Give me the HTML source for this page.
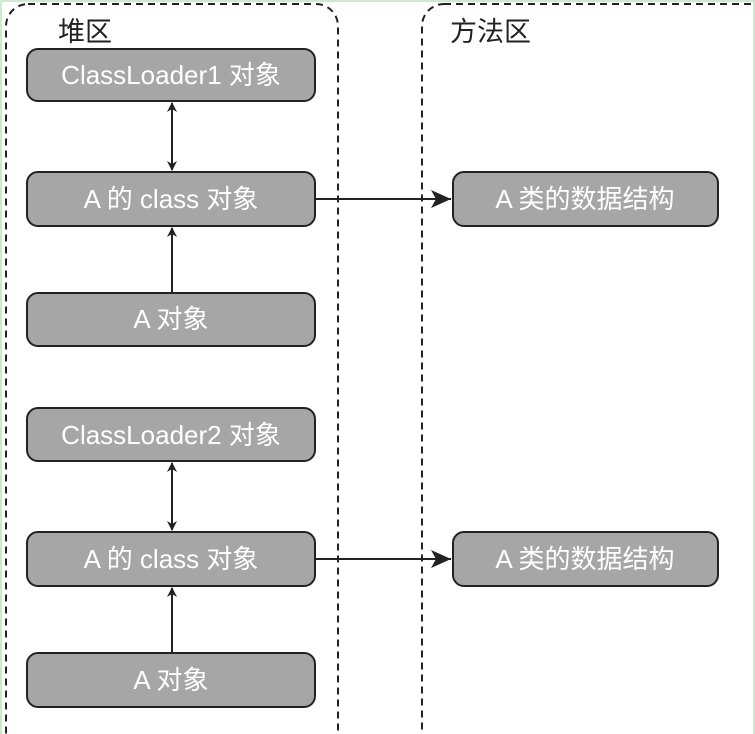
<!DOCTYPE html>
<html><head><meta charset="utf-8"><style>
body{margin:0;background:#fff;}
svg{display:block}
text{font-family:"Liberation Sans","Noto Sans CJK SC",sans-serif;}
</style></head><body>
<svg width="755" height="734" viewBox="0 0 755 734" xmlns="http://www.w3.org/2000/svg">
<rect x="0" y="0" width="755" height="734" fill="#fff"/>
<rect x="0.5" y="0.5" width="754" height="740" fill="none" stroke="#cfe8cf" stroke-width="3"/>
<defs><marker id="a" markerWidth="10" markerHeight="10" refX="9" refY="5" orient="auto-start-reverse" markerUnits="userSpaceOnUse"><path d="M0,0 L10,5 L0,10 L3,5 z" fill="#222"/></marker>
<marker id="b" markerWidth="22" markerHeight="20" refX="20" refY="10" orient="auto-start-reverse" markerUnits="userSpaceOnUse"><path d="M0,1 L20,10 L0,19 L5,10 z" fill="#222"/></marker></defs>
<rect x="6" y="4" width="332" height="760" rx="22" fill="none" stroke="#222" stroke-width="2" stroke-dasharray="7,5"/>
<rect x="422" y="4" width="360" height="760" rx="22" fill="none" stroke="#222" stroke-width="2" stroke-dasharray="7,5"/>
<text x="58" y="41" font-size="27" fill="#222" font-family="Noto Serif CJK SC,serif">堆区</text>
<text x="450" y="41" font-size="27" fill="#222" font-family="Noto Serif CJK SC,serif">方法区</text>
<g fill="#a6a6a6" stroke="#222" stroke-width="2">
<rect x="27" y="49" width="288" height="52" rx="11"/>
<rect x="27" y="172" width="288" height="54" rx="11"/>
<rect x="27" y="293" width="288" height="53" rx="11"/>
<rect x="27" y="408" width="288" height="53" rx="11"/>
<rect x="27" y="532" width="288" height="54" rx="11"/>
<rect x="27" y="653" width="288" height="54" rx="11"/>
<rect x="453" y="172" width="265" height="54" rx="11"/>
<rect x="453" y="532" width="265" height="54" rx="11"/>
</g>
<g fill="#fff" font-size="26" text-anchor="middle">
<text x="171" y="84">ClassLoader1 对象</text>
<text x="171" y="208">A 的 class 对象</text>
<text x="171" y="328">A 对象</text>
<text x="171" y="444">ClassLoader2 对象</text>
<text x="171" y="568">A 的 class 对象</text>
<text x="171" y="689">A 对象</text>
<text x="585" y="208">A 类的数据结构</text>
<text x="585" y="568">A 类的数据结构</text>
</g>
<g stroke="#222" stroke-width="2">
<line x1="172" y1="103" x2="172" y2="170" marker-start="url(#a)" marker-end="url(#a)"/>
<line x1="172" y1="292" x2="172" y2="228" marker-end="url(#a)"/>
<line x1="316" y1="199" x2="451" y2="199" marker-end="url(#b)"/>
<line x1="172" y1="463" x2="172" y2="530" marker-start="url(#a)" marker-end="url(#a)"/>
<line x1="172" y1="652" x2="172" y2="588" marker-end="url(#a)"/>
<line x1="316" y1="559" x2="451" y2="559" marker-end="url(#b)"/>
</g>
</svg>
</body></html>
